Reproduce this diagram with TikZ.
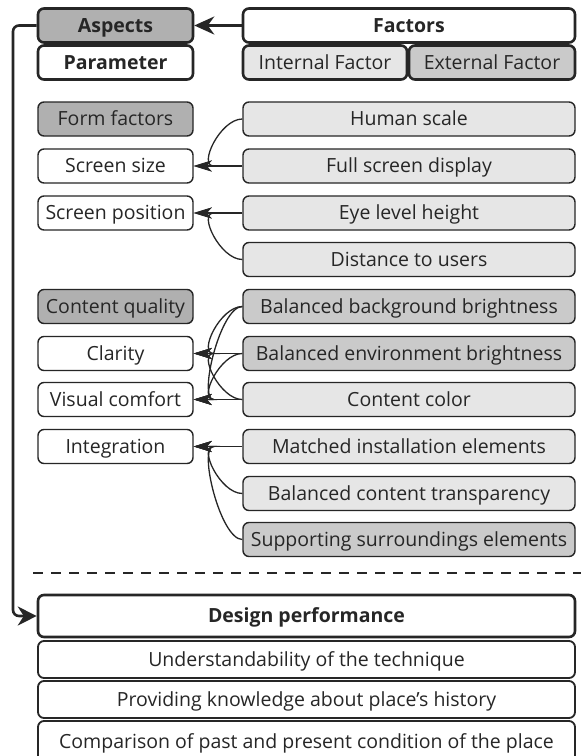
\documentclass[tikz,border=0pt]{standalone}
\usepackage{fontspec}
\setmainfont{Open Sans}
\usetikzlibrary{arrows.meta,calc}
\definecolor{ink}{HTML}{262626}
\definecolor{darkfill}{HTML}{B0B0B0}
\definecolor{midfill}{HTML}{CACACA}
\definecolor{lightfill}{HTML}{E6E6E6}
\newcommand{\bfont}{\fontsize{19.5}{23}\selectfont}
\tikzset{
  box/.style={draw=ink, rounded corners=6pt, line width=1.4pt, inner sep=0pt, text=ink,
    font=\bfont, align=center, minimum height=34pt, text height=14pt, text depth=0.5pt},
  hbox/.style={box, line width=2.6pt},
  lbox/.style={box, minimum width=155pt},
  rbox/.style={box, minimum width=332pt},
  bbox/.style={box, minimum width=537pt},
  arr/.style={draw=ink, line width=1.3pt, -{Stealth[length=18pt,width=11pt,inset=5pt]}},
  bigarr/.style={draw=ink, line width=2.6pt, rounded corners=6pt, -{Stealth[length=19pt,width=19pt]}},
}
\begin{document}
\begin{tikzpicture}[x=1pt,y=-1pt]
\useasboundingbox[fill=white] (0,0) rectangle (581,756);
% header
\node[hbox, minimum width=155pt, fill=darkfill, font=\bfont\bfseries] (asp) at (115.5,25.5) {Aspects};
\node[hbox, minimum width=155pt, fill=white, font=\bfont\bfseries] (par) at (115.5,62.5) {Parameter};
\node[hbox, minimum width=332pt, fill=white, font=\bfont\bfseries] (fac) at (409,25.5) {Factors};
\node[hbox, minimum width=164pt, fill=lightfill] (int) at (325,62.5) {Internal Factor};
\node[hbox, minimum width=166pt, fill=midfill] (ext) at (492,62.5) {External Factor};
\draw[draw=ink, line width=2.6pt, -{Stealth[length=20pt,width=18pt]}] (fac.west) -- (asp.east);
% left column
\node[lbox, fill=darkfill] (ff) at (115.5,119) {Form factors};
\node[lbox, fill=white] (ss) at (115.5,166) {Screen size};
\node[lbox, fill=white] (sp) at (115.5,213) {Screen position};
\node[lbox, fill=darkfill] (cq) at (115.5,306.5) {Content quality};
\node[lbox, fill=white] (cl) at (115.5,353.5) {Clarity};
\node[lbox, fill=white] (vc) at (115.5,399.5) {Visual comfort};
\node[lbox, fill=white] (ig) at (115.5,446.5) {Integration};
% right column
\node[rbox, fill=lightfill] (hs) at (409,119) {Human scale};
\node[rbox, fill=lightfill] (fs) at (409,166) {Full screen display};
\node[rbox, fill=lightfill] (el) at (409,213) {Eye level height};
\node[rbox, fill=lightfill] (du) at (409,259.5) {Distance to users};
\node[rbox, fill=midfill] (bb) at (409,306.5) {Balanced background brightness};
\node[rbox, fill=midfill] (be) at (409,353.5) {Balanced environment brightness};
\node[rbox, fill=lightfill] (cc) at (409,399.5) {Content color};
\node[rbox, fill=lightfill] (mi) at (409,446.5) {Matched installation elements};
\node[rbox, fill=lightfill] (bt) at (409,493.5) {Balanced content transparency};
\node[rbox, fill=midfill] (su) at (409,539.5) {Supporting surroundings elements};
% connectors
\foreach \r/\l in {hs/ss, fs/ss, el/sp, du/sp, bb/cl, be/cl, cc/cl, bb/vc, be/vc, cc/vc, mi/ig, bt/ig, su/ig}{
  \draw[arr] (\r.west) .. controls ($(\r.west)+(-22,0)$) and ($(\l.east)+(4,0)$) .. ($(\l.east)+(20,0)$) -- (\l.east);
}
% dashed separator
\coordinate (d1) at (33,573);
\coordinate (d2) at (581,573);
\draw[draw=ink, line width=2.2pt, dash pattern=on 10pt off 8pt] (d1) -- (d2);
% bottom
\node[hbox, minimum width=537pt, minimum height=42pt, fill=white, font=\bfont\bfseries] (dp) at (306.5,616) {Design performance};
\node[bbox, minimum height=37pt, fill=white, line width=1.8pt] (u1) at (306.5,659.5) {Understandability of the technique};
\node[bbox, minimum height=37pt, fill=white, line width=1.8pt] (u2) at (306.5,699.5) {Providing knowledge about place’s history};
\node[bbox, minimum height=42pt, fill=white, line width=1.8pt] (u3) at (306.5,742) {Comparison of past and present condition of the place};
\draw[bigarr] (asp.west) -| (13,300) |- (dp.west);
\end{tikzpicture}
\end{document}
